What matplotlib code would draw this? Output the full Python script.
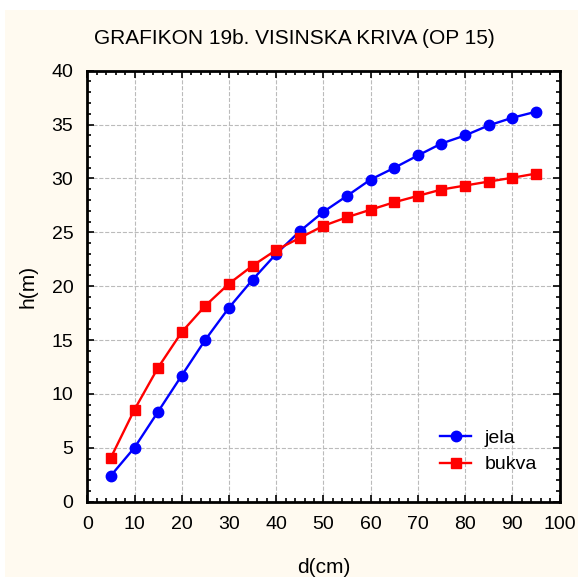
import matplotlib
matplotlib.use("Agg")
import matplotlib.pyplot as plt
from matplotlib.patches import Rectangle
from matplotlib.ticker import MultipleLocator

# precnik (cm) i visine (m) za jelu i bukvu
d_cm = [5, 10, 15, 20, 25, 30, 35, 40, 45, 50, 55, 60, 65, 70, 75, 80, 85, 90, 95]
h_jela = [2.42, 5.02, 8.36, 11.71, 15.03, 18.0, 20.6, 23.0, 25.1, 26.9,
          28.38, 29.9, 30.98, 32.13, 33.24, 33.99, 34.92, 35.63, 36.19]
h_bukva = [4.09, 8.55, 12.45, 15.74, 18.19, 20.23, 21.9, 23.36, 24.48, 25.6,
           26.4, 27.1, 27.79, 28.38, 28.97, 29.34, 29.71, 30.06, 30.45]

plt.rcParams['font.family'] = ['Liberation Sans', 'DejaVu Sans']

fig = plt.figure(figsize=(5.78, 5.77), dpi=100, facecolor='white')
# krem pozadina
fig.patches.append(Rectangle((5 / 578, 0), 1, 1 - 10 / 577, transform=fig.transFigure,
                             facecolor='#fffaf0', edgecolor='none', zorder=-1))

ax = fig.add_axes([0.151, 0.1305, 0.817, 0.747])
ax.set_facecolor('white')

ax.plot(d_cm, h_jela, color='blue', marker='o', markersize=7.5, linewidth=1.7, label='jela')
ax.plot(d_cm, h_bukva, color='red', marker='s', markersize=7.5, linewidth=1.7, label='bukva')

ax.set_xlim(0, 100)
ax.set_ylim(0, 40)
ax.xaxis.set_major_locator(MultipleLocator(10))
ax.xaxis.set_minor_locator(MultipleLocator(2))
ax.yaxis.set_major_locator(MultipleLocator(5))
ax.yaxis.set_minor_locator(MultipleLocator(1))
ax.tick_params(which='both', direction='in', top=True, right=True, labelsize=14, width=1.2)
ax.tick_params(which='major', length=5)
ax.tick_params(axis='x', which='major', pad=10)
ax.tick_params(axis='y', which='major', pad=10)
ax.tick_params(which='minor', length=3)
for s in ax.spines.values():
    s.set_linewidth(2)

ax.grid(True, which='major', linestyle='--', color='#bbbbbb', linewidth=0.8)
ax.set_axisbelow(True)

fig.text(0.509, 1 - 39 / 577, 'GRAFIKON 19b. VISINSKA KRIVA (OP 15)', fontsize=15,
         ha='center', va='center')
ax.set_xlabel('d(cm)', fontsize=15, labelpad=18)
ax.set_ylabel('h(m)', fontsize=15, labelpad=10)

ax.legend(loc='lower right', bbox_to_anchor=(0.99, 0.025), frameon=False, fontsize=14,
          handlelength=1.6, handletextpad=0.7, labelspacing=0.45)

fig.savefig('out.png', dpi=100, facecolor=fig.get_facecolor())
